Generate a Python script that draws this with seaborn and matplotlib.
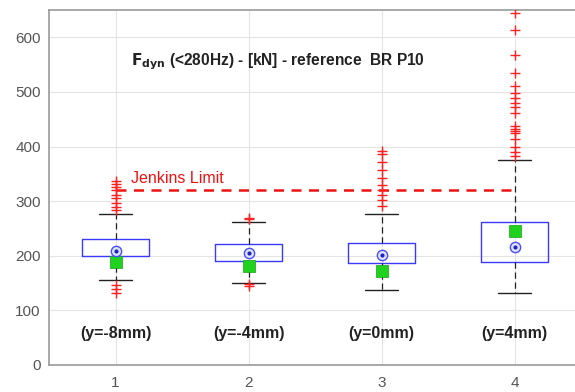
import matplotlib
matplotlib.use("Agg")
import matplotlib.pyplot as plt
import seaborn as sns
import pandas as pd

# ---- data ----
positions = [1, 2, 3, 4]
group_labels = ["(y=-8mm)", "(y=-4mm)", "(y=0mm)", "(y=4mm)"]
q1 = [199, 191, 186, 188]
q3 = [230, 221, 223, 262]
medians = [208, 205, 201, 216]
means = [188, 181, 172, 245]
whisker_low = [155, 150, 137, 132]
whisker_high = [276, 262, 276, 376]
outliers_1 = [132, 140, 146, 283, 290, 297, 305, 312, 320, 326, 331, 337]
outliers_2 = [145, 148, 267, 269]
outliers_3 = [292, 302, 311, 320, 330, 342, 357, 372, 386, 392]
outliers_4 = [383, 390, 399, 413, 424, 428, 433, 437, 461, 472, 479, 488,
              498, 510, 534, 567, 614, 645]
jenkins_limit = 320
jenkins_x = [1, 4]
title_text = r"$\mathbf{F_{dyn}}$ (<280Hz) - [kN] - reference  BR P10"

sns.set_style("white")
plt.rcParams["font.family"] = ["Liberation Sans", "DejaVu Sans"]

fig = plt.figure(figsize=(5.75, 3.92), dpi=100)
ax = fig.add_axes([49 / 575, 27 / 392, 532 / 575, 355 / 392])

# grid
ax.set_axisbelow(True)
ax.grid(True, color="#e4e4e4", linewidth=0.8)

# boxes
stats = []
for i in range(4):
    stats.append(dict(med=medians[i], q1=q1[i], q3=q3[i],
                      whislo=whisker_low[i], whishi=whisker_high[i],
                      fliers=[], mean=means[i]))
ax.bxp(stats, positions=positions, widths=0.5, showfliers=False,
       showmeans=False,
       boxprops=dict(color="#3a3aff", linewidth=1.0),
       medianprops=dict(linewidth=0),
       whiskerprops=dict(color="#222222", linestyle=(0, (5, 3)), linewidth=0.9),
       capprops=dict(color="#222222", linewidth=1.0),
       capwidths=0.25)

# outliers
out_x, out_y = [], []
for p, arr in zip(positions, [outliers_1, outliers_2, outliers_3, outliers_4]):
    out_x += [p] * len(arr)
    out_y += arr
sns.scatterplot(x=out_x, y=out_y, marker="+", color="#ff2020", s=55,
                linewidth=1.0, ax=ax, zorder=4)

# means (green squares)
sns.scatterplot(x=positions, y=means, marker="s", color="#1ed21e", s=80,
                edgecolor="#16a016", linewidth=0.5, ax=ax, zorder=5)

# medians (target)
ax.scatter(positions, medians, s=55, facecolor="#dde6ff", edgecolor="#4a4aff",
           linewidth=1.0, zorder=6)
ax.scatter(positions, medians, s=4, color="#2020c0", zorder=7)

# Jenkins limit
jdf = pd.DataFrame({"x": jenkins_x, "y": [jenkins_limit] * 2})
sns.lineplot(data=jdf, x="x", y="y", color="#ee1111", linestyle=(0, (4, 3)),
             linewidth=1.8, ax=ax, zorder=3)
ax.text(1.115, 327, "Jenkins Limit", color="#ee1111", fontsize=11.5,
        ha="left", va="bottom")

# title text inside
ax.text(1.115, 555, title_text, fontsize=11.2, fontweight="bold", ha="left",
        va="center", color="#222222")

# group labels
for p, lab in zip(positions, group_labels):
    ax.text(p, 58, lab, fontsize=11.5, fontweight="bold", ha="center",
            va="center", color="#222222")

ax.set_xlim(0.5, 4.5)
ax.set_ylim(0, 650)
ax.set_xticks(positions)
ax.set_xticklabels([str(p) for p in positions])
ax.set_yticks([0, 100, 200, 300, 400, 500, 600])
ax.set_xlabel("")
ax.set_ylabel("")
ax.tick_params(direction="in", length=3, color="#666666", labelcolor="#555555",
               labelsize=11, pad=6)
ax.tick_params(axis="x", pad=8)
for s in ["left", "bottom", "top"]:
    ax.spines[s].set_color("#999999")
    ax.spines[s].set_linewidth(1.2)
ax.spines["right"].set_visible(False)

fig.savefig("out.png", dpi=100)
